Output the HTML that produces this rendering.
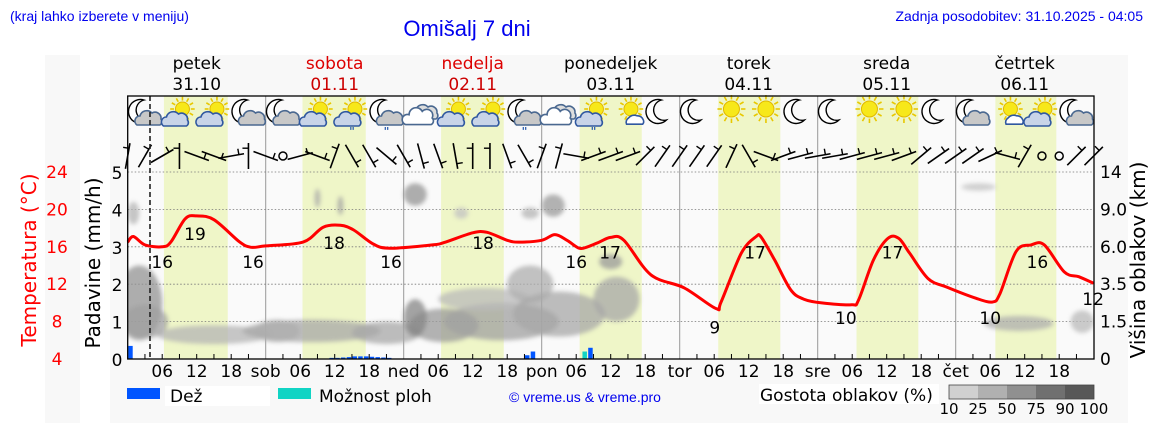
<!DOCTYPE html>
<html><head><meta charset="utf-8"><style>
body{margin:0;background:#fff;width:1152px;height:443px;overflow:hidden;font-family:"DejaVu Sans","Liberation Sans",sans-serif}
svg{display:block}
</style></head><body>
<svg id="chart" width="1152" height="443" viewBox="0 0 1152 443" xmlns="http://www.w3.org/2000/svg">
<defs>
<filter id="blur" x="-50%" y="-50%" width="200%" height="200%"><feGaussianBlur stdDeviation="2"/></filter>
<clipPath id="plotclip"><rect x="127.7" y="172" width="966.3" height="187"/></clipPath>
</defs>
<rect x="45" y="55" width="35" height="368" fill="#f8f8f8"/>
<rect x="110" y="55" width="1018" height="368" fill="#f8f8f8"/>
<text x="10" y="21" font-family="Liberation Sans, sans-serif" font-size="14" fill="#0000ee">(kraj lahko izberete v meniju)</text>
<text x="467" y="36" text-anchor="middle" font-family="Liberation Sans, sans-serif" font-size="22" fill="#0000ee">Omišalj 7 dni</text>
<text x="1143" y="21" text-anchor="end" font-family="Liberation Sans, sans-serif" font-size="14" fill="#0000ee">Zadnja posodobitev: 31.10.2025 - 04:05</text>
<rect x="127.7" y="96" width="966.3" height="263" fill="#fafafa"/>
<g id="bands"></g>
<g id="grid"></g>
<g id="clouds" clip-path="url(#plotclip)"><g id="cloudsinner" filter="url(#blur)"></g></g>
<g id="rain"></g>
<g id="temp"></g>
<g id="icons"></g>
<g id="winds"></g>
<g id="axes"></g>
<line x1="150" y1="96" x2="150" y2="359" stroke="#222" stroke-width="1.6" stroke-dasharray="5,3"/>
<rect x="127.7" y="96" width="966.3" height="263" fill="none" stroke="#000" stroke-width="1.3"/>
<text transform="translate(36,260) rotate(-90)" text-anchor="middle" font-size="20" fill="#ff0000">Temperatura (°C)</text>
<text transform="translate(100,263) rotate(-90)" text-anchor="middle" font-size="20" fill="#000">Padavine (mm/h)</text>
<text transform="translate(1145,260) rotate(-90)" text-anchor="middle" font-size="20" fill="#000">Višina oblakov (km)</text>
<g>
<rect x="127" y="388" width="33" height="11" fill="#0055ff"/>
<rect x="165" y="386" width="105" height="20" fill="#fff"/>
<text x="170" y="402" font-size="17">Dež</text>
<rect x="278" y="388" width="33" height="11" fill="#11d4c4"/>
<text x="319" y="402" font-size="17">Možnost ploh</text>
<text x="585" y="402" text-anchor="middle" font-family="Liberation Sans, sans-serif" font-size="14" fill="#0000ee">© vreme.us &amp; vreme.pro</text>
<rect x="759" y="384" width="180" height="20" fill="#fff"/>
<text x="760" y="401" font-size="17">Gostota oblakov (%)</text>
<g id="densitybar"></g>
</g>
</svg>
<script>
const NS='http://www.w3.org/2000/svg';
const dayNames=['petek','sobota','nedelja','ponedeljek','torek','sreda','četrtek'];
const dayDates=['31.10','01.11','02.11','03.11','04.11','05.11','06.11'];
const dayAbbr=['sob','ned','pon','tor','sre','čet'];
const dayRed=[false,true,true,false,false,false,false];
const sunrise=[6.3,6.4,6.5,6.6,6.7,6.75,6.9];
const sunset=[17.4,17.4,17.4,17.4,17.5,17.5,17.5];
const precipTicks=[0,1,2,3,4,5];
const tempTicks=['4','8','12','16','20','24'];
const heightTicks=['0','1.5','3.5','6.0','9.0','14'];
const tempHours=[0,1,3,6,7.5,10,12,15,19.5,21.5,24,30.5,34,37,39.3,42.7,45.6,53,55,60,62.5,66,68,72,74.3,76.4,78.5,80,82,84,86.3,91,96.8,102.3,103.2,106.7,109.3,110.2,112.5,115.3,117.6,120.7,125.9,127.1,129.7,132.2,134.1,136,139.2,142.4,147.5,150.4,151.7,154.5,157.1,159.4,162.9,165.4,168];
const temps=[16.5,17.1,16.2,16.0,16.5,19.0,19.3,18.9,16.5,15.95,16.1,16.5,18.1,18.3,17.8,16.3,15.85,16.2,16.45,17.5,17.55,16.7,16.5,16.7,17.3,16.7,15.85,16.0,16.5,17.0,16.7,13.0,11.6,9.4,10.1,15.3,17.1,17.0,14.6,11.4,10.4,10.0,9.8,10.3,14.6,16.9,16.9,15.3,12.6,11.7,10.5,10.1,11.0,15.5,16.2,16.2,13.3,12.8,12.1];
const labelHours=[6,11.7,21.8,35.9,45.8,61.8,78,83.9,102.1,109.1,124.9,133,150,158.2,167.9];
const labelVals=[16,19,16,18,16,18,16,17,9,17,10,17,10,16,12];
const rainHours=[0,35,36,37,38,39,40,41,42,43,44,45,69,70,80];
const rainVals=[0.35,0.03,0.03,0.04,0.05,0.07,0.07,0.07,0.06,0.05,0.04,0.03,0.1,0.2,0.3];
const showerHours=[79];
const showerVals=[0.2];
const cloudHours=[2,1,15,32,45,55,50,65,62,70,75,85,84,33,37,50,58,70,74,148,155,166,3,26];
const cloudLevels=[1.5,3.9,0.65,0.75,0.7,0.9,1.1,1.0,1.6,2.0,1.2,1.6,2.6,4.3,4.1,4.4,3.9,3.9,4.1,4.6,0.95,1.0,1.0,0.75];
const cloudSpan=[4,1,10,12,6,6,2,10,8,4,8,4,2,0.5,0.5,2,1.2,1.5,2,3,6,2,4,4];
const cloudDepth=[1.0,0.3,0.25,0.3,0.3,0.45,0.5,0.5,0.3,0.5,0.6,0.6,0.2,0.25,0.25,0.3,0.15,0.15,0.3,0.1,0.2,0.3,0.45,0.3];
const cloudDensity=[60,35,35,45,45,55,70,50,30,40,45,45,55,45,50,60,25,35,55,25,40,30,50,40];
const iconTypes=['mc','sc','sc','mc','mc','sc','sr','mr','c','sc','sc','mr','c','sr','ss','m','m','s','s','m','m','s','s','m','mc','ss','sc','mc'];
const windDirs=[80,60,30,90,-20,-20,10,90,-20,null,15,-20,70,-60,-60,-40,-60,-75,-70,-80,90,90,-70,-60,70,75,-10,20,20,20,45,55,55,55,55,65,-60,-20,20,15,10,10,15,15,15,20,40,35,35,35,25,-15,60,null,null,45,45];
const densityLabels=['10','25','50','75','90','100'];
const densityColors=['#d0d0d0','#b0b0b0','#909090','#707070','#585858'];

const X0=127.7,HP=5.75,Y0=359,PU=37.4;
const xs=h=>X0+h*HP;
const yp=v=>Y0-v*PU;
const yt=t=>Y0-(t-4)*PU/4;
function mk(tag,attrs,parent){const e=document.createElementNS(NS,tag);for(const k in attrs)e.setAttribute(k,attrs[k]);parent.appendChild(e);return e;}
const g=id=>document.getElementById(id);

for(let d=0;d<7;d++){
  const b=mk('rect',{x:xs(24*d+sunrise[d]),y:96,width:(sunset[d]-sunrise[d])*HP,height:263,fill:'#eff6c8'},g('bands'));
  
  
  const cx=xs(24*d+12);
  const n=mk('text',{x:cx,y:69,'text-anchor':'middle','font-size':17,fill:dayRed[d]?'#dd0000':'#000'},g('axes'));n.textContent=dayNames[d];
  
  
  const dt=mk('text',{x:cx,y:90,'text-anchor':'middle','font-size':17,fill:dayRed[d]?'#cc0000':'#000'},g('axes'));dt.textContent=dayDates[d];
  
  
  if(d>0){const l=mk('line',{x1:xs(24*d),y1:96,x2:xs(24*d),y2:359,stroke:'#999','stroke-width':1},g('grid'));
    
    }
}
precipTicks.forEach((v,i)=>{
  if(v>0){const l=mk('line',{x1:X0,y1:yp(v),x2:1094,y2:yp(v),stroke:'#777','stroke-width':0.8,'stroke-dasharray':'1.5,2'},g('grid'));
    
    }
  const t=mk('text',{x:117,y:yp(v)+7,'text-anchor':'middle','font-size':17},g('axes'));t.textContent=v;
  
  
  const tt=mk('text',{x:57,y:yp(v)+6,'text-anchor':'middle','font-size':17,fill:'#ff0000'},g('axes'));tt.textContent=tempTicks[i];
  
  
  const ht=mk('text',{x:1100,y:yp(v)+6,'font-size':17},g('axes'));ht.textContent=heightTicks[i];
  
  
});
for(let h=3;h<168;h+=3){
  mk('line',{x1:xs(h),y1:359,x2:xs(h),y2:h%24==0?359:354,stroke:'#000','stroke-width':1},g('axes'));
  let lab=null;
  if(h%24==0)lab=dayAbbr[h/24-1];else if(h%6==0)lab=String(h%24).padStart(2,'0');
  if(lab){const t=mk('text',{x:xs(h),y:377,'text-anchor':'middle','font-size':17},g('axes'));t.textContent=lab;
    
    }
}
cloudHours.forEach((h,i)=>{
  const c=Math.round(225-cloudDensity[i]*1.3);
  const e=mk('ellipse',{cx:xs(h),cy:yp(cloudLevels[i]),rx:cloudSpan[i]*HP,ry:cloudDepth[i]*PU,fill:`rgb(${c},${c},${c})`,opacity:0.75},g('cloudsinner'));
  
  
});
rainHours.forEach((h,i)=>{
  const r=mk('rect',{x:xs(h)+0.5,y:yp(rainVals[i]),width:4.5,height:rainVals[i]*PU,fill:'#0055ff'},g('rain'));
  
  
});
showerHours.forEach((h,i)=>{
  const r=mk('rect',{x:xs(h)+0.5,y:yp(showerVals[i]),width:4.5,height:showerVals[i]*PU,fill:'#11d4c4'},g('rain'));
  
  
});
const pts=tempHours.map((h,i)=>[xs(h),yt(temps[i])]);
let d='M'+pts[0][0].toFixed(1)+','+pts[0][1].toFixed(1);
for(let i=0;i<pts.length-1;i++){
  const p0=pts[Math.max(0,i-1)],p1=pts[i],p2=pts[i+1],p3=pts[Math.min(pts.length-1,i+2)];
  const c1=[p1[0]+(p2[0]-p0[0])/6,p1[1]+(p2[1]-p0[1])/6],c2=[p2[0]-(p3[0]-p1[0])/6,p2[1]-(p3[1]-p1[1])/6];
  d+=` C${c1[0].toFixed(1)},${c1[1].toFixed(1)} ${c2[0].toFixed(1)},${c2[1].toFixed(1)} ${p2[0].toFixed(1)},${p2[1].toFixed(1)}`;
}
const tl=mk('path',{d:d,fill:'none',stroke:'#ff0000','stroke-width':3,'stroke-linejoin':'round'},g('temp'));


labelHours.forEach((h,i)=>{
  const t=mk('text',{x:xs(h),y:yt(labelVals[i])+21,'text-anchor':'middle','font-size':17},g('temp'));t.textContent=labelVals[i];
  
  
});
function sun(p,x,y,r){for(let k=0;k<12;k++){const a=k*Math.PI/6;mk('line',{x1:x+Math.cos(a)*r*1.2,y1:y+Math.sin(a)*r*1.2,x2:x+Math.cos(a)*r*1.75,y2:y+Math.sin(a)*r*1.75,stroke:'#e8c800','stroke-width':1.6},p);}
  mk('circle',{cx:x,cy:y,r:r,fill:'#f7e81a',stroke:'#e0b800','stroke-width':1},p);}
function moon(p,x,y){mk('path',{d:`M${x+3},${y-12} A12,12 0 1,0 ${x+8},${y+8} A10,10 0 1,1 ${x+3},${y-12}Z`,fill:'#fff',stroke:'#000','stroke-width':1.4},p);}
function cloud(p,x,y,s,fill,stroke){
  mk('path',{d:`M${x-12*s},${y+6*s} A5 5 0 0 1 ${x-9*s},${y-3*s} A7 7 0 0 1 ${x+3*s},${y-6*s} A6 6 0 0 1 ${x+12*s},${y} A4 4 0 0 1 ${x+11*s},${y+6*s} Z`,fill:fill,stroke:stroke,'stroke-width':1.6},p);}
iconTypes.forEach((t,i)=>{
  const x=xs(3+6*i),y=114;
  const grp=mk('g',{},g('icons'));
  
  
  if(t[0]=='m'){moon(grp,x-4,y-2);}
  if(t[0]=='s'){sun(grp,x+(t=='s'?0:3),y-5,t=='s'?8:7);}
  if(t=='mc'||t=='mr')cloud(grp,x+4,y+5,1,'#c8c8c8','#4a6890');
  if(t=='sc'||t=='sr')cloud(grp,x-4,y+6,1,'#c8d4e8','#3058a0');
  if(t=='ss')cloud(grp,x+7,y+6,0.7,'#fff','#3058a0');
  if(t=='c'){cloud(grp,x+4,y-1,1,'#ddd','#4a6890');cloud(grp,x-2,y+4,1.1,'#fff','#4a6890');}
  if(t=='mr'||t=='sr'){const r=mk('text',{x:x,y:y+21,'text-anchor':'middle','font-size':11,fill:'#3060b0','font-weight':'bold'},grp);r.textContent='"';}
});
windDirs.forEach((a,i)=>{
  const x=xs(3*i),y=156;
  const grp=mk('g',{},g('winds'));
  
  
  if(a===null){mk('circle',{cx:x,cy:y,r:4,fill:'none',stroke:'#000','stroke-width':1.5},grp);return;}
  const r=a*Math.PI/180,L=13;
  const x1=x-Math.cos(r)*L,y1=y+Math.sin(r)*L,x2=x+Math.cos(r)*L,y2=y-Math.sin(r)*L;
  mk('line',{x1:x1,y1:y1,x2:x2,y2:y2,stroke:'#000','stroke-width':1.6},grp);
  const px=-Math.sin(r)*6,py=-Math.cos(r)*6;
  const fx=x1+(x2-x1)*0.8,fy=y1+(y2-y1)*0.8;
  mk('line',{x1:fx,y1:fy,x2:fx+px,y2:fy+py,stroke:'#000','stroke-width':1.4},grp);
});
densityColors.forEach((c,i)=>{
  const r=mk('rect',{x:949+i*29,y:385,width:29,height:14,fill:c},g('densitybar'));
  
  
});
mk('rect',{x:949,y:385,width:145,height:14,fill:'none',stroke:'#444','stroke-width':0.8},g('densitybar'));
densityLabels.forEach((l,i)=>{
  const t=mk('text',{x:949+i*29,y:414,'text-anchor':'middle','font-size':15},g('densitybar'));t.textContent=l;
  
  
});
</script>
</body></html>
